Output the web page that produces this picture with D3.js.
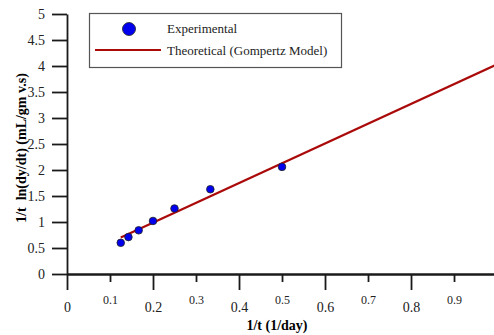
<!DOCTYPE html>
<html>
<head>
<meta charset="utf-8">
<script src="https://cdn.jsdelivr.net/npm/d3@7"></script>
<style>
  body { margin: 0; background: #fff; }
  text { font-family: "Liberation Serif", "Times New Roman", serif; }
</style>
</head>
<body>
<div id="chart"></div>
<script>
// data
const expX = [1/8, 1/7, 1/6, 1/5, 1/4, 1/3, 1/2];
const expY = [0.60, 0.71, 0.84, 1.02, 1.26, 1.63, 2.06];
const theoX = [0.125, 1.0];
const theoY = [0.70, 4.03];
const yTicks = [0, 0.5, 1, 1.5, 2, 2.5, 3, 3.5, 4, 4.5, 5];
const xMajor = [0, 0.2, 0.4, 0.6, 0.8];
const xMinor = [0.1, 0.3, 0.5, 0.7, 0.9];

const width = 494, height = 335;
const plotLeft = 67, plotRight = 494, plotTop = 14, plotBottom = 274;

const svg = d3.select('#chart').append('svg')
  .attr('width', width)
  .attr('height', height);

const x = d3.scaleLinear().domain([0, 0.993]).range([plotLeft, plotRight]);
const y = d3.scaleLinear().domain([0, 5]).range([plotBottom, plotTop]);

svg.append('clipPath').attr('id', 'clip')
  .append('rect').attr('x', plotLeft).attr('y', plotTop - 5)
  .attr('width', plotRight - plotLeft).attr('height', plotBottom - plotTop + 5);

// y axis
const yAxis = svg.append('g').attr('transform', `translate(${plotLeft},0)`)
  .call(d3.axisLeft(y).tickValues(yTicks).tickFormat(d3.format('~g'))
    .tickSize(15).tickSizeOuter(0).tickPadding(7));

// x axis, major and minor ticks
const xAxisMaj = svg.append('g').attr('transform', `translate(0,${plotBottom})`)
  .call(d3.axisBottom(x).tickValues(xMajor).tickFormat(d3.format('~g'))
    .tickSize(16).tickSizeOuter(0).tickPadding(12));
const xAxisMin = svg.append('g').attr('transform', `translate(0,${plotBottom})`)
  .call(d3.axisBottom(x).tickValues(xMinor).tickFormat(d3.format('~g'))
    .tickSize(8).tickSizeOuter(0).tickPadding(13));

[yAxis, xAxisMaj, xAxisMin].forEach(g => {
  g.attr('font-family', '"Liberation Serif", serif');
  g.selectAll('path, line').attr('stroke', '#1a1a1a').attr('stroke-width', 1.8);
  g.selectAll('text').attr('fill', '#222');
});
yAxis.selectAll('text').style('font-size', '14px');
xAxisMaj.selectAll('text').style('font-size', '14px');
xAxisMin.selectAll('text').style('font-size', '12px');

// axis titles
svg.append('text')
  .attr('x', 277).attr('y', 330)
  .attr('text-anchor', 'middle')
  .style('font-size', '14px').style('font-weight', 'bold')
  .text('1/t (1/day)');

svg.append('text')
  .attr('transform', 'translate(26,148) rotate(-90)')
  .attr('text-anchor', 'middle')
  .style('font-size', '14px').style('font-weight', 'bold')
  .style('white-space', 'pre')
  .text('1/t  ln(dy/dt) (mL/gm v.s)');

// theoretical line
const theo = theoX.map((d, i) => ({ x: d, y: theoY[i] }));
svg.append('path')
  .datum(theo)
  .attr('clip-path', 'url(#clip)')
  .attr('d', d3.line().x(d => x(d.x)).y(d => y(d.y)))
  .attr('fill', 'none')
  .attr('stroke', '#aa0a0a')
  .attr('stroke-width', 2.2);

// experimental points
const exp = expX.map((d, i) => ({ x: d, y: expY[i] }));
svg.selectAll('.dot')
  .data(exp)
  .enter().append('circle')
  .attr('class', 'dot')
  .attr('cx', d => x(d.x))
  .attr('cy', d => y(d.y))
  .attr('r', 3.8)
  .attr('fill', '#0000ee')
  .attr('stroke', '#222')
  .attr('stroke-width', 0.8);

// legend
const legend = svg.append('g');
legend.append('rect')
  .attr('x', 89.5).attr('y', 13.5)
  .attr('width', 252).attr('height', 54)
  .attr('fill', '#fff')
  .attr('stroke', '#555')
  .attr('stroke-width', 1.2);
legend.append('circle')
  .attr('cx', 129).attr('cy', 29).attr('r', 6.5)
  .attr('fill', '#0000ee').attr('stroke', '#222').attr('stroke-width', 0.8);
legend.append('line')
  .attr('x1', 95).attr('x2', 161).attr('y1', 50).attr('y2', 50)
  .attr('stroke', '#aa0a0a').attr('stroke-width', 2.2);
legend.append('text')
  .attr('x', 167).attr('y', 33)
  .style('font-size', '13px').attr('fill', '#222')
  .text('Experimental');
legend.append('text')
  .attr('x', 167).attr('y', 55)
  .style('font-size', '13px').attr('fill', '#222')
  .text('Theoretical (Gompertz Model)');
</script>
</body>
</html>
